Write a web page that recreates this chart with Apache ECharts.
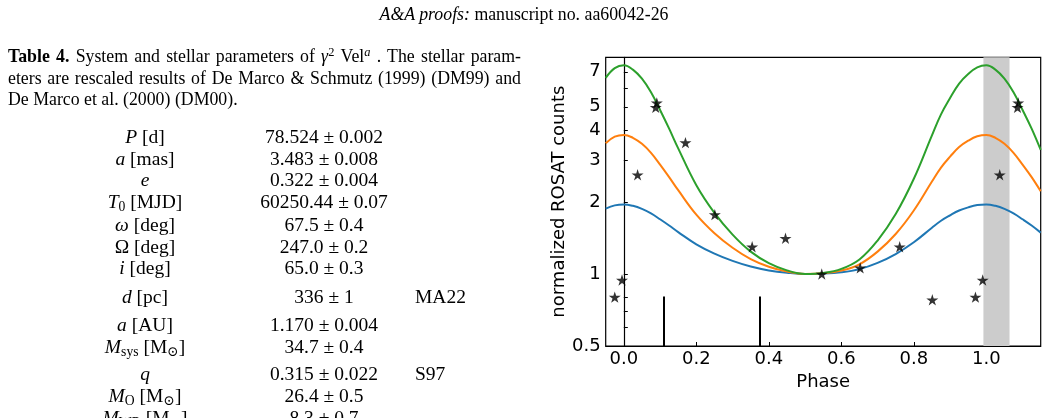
<!DOCTYPE html>
<html>
<head>
<meta charset="utf-8">
<script src="https://cdn.jsdelivr.net/npm/echarts@6.0.0/dist/echarts.min.js"></script>
<style>
  html, body { margin: 0; padding: 0; background: #fff; }
  body { width: 1048px; height: 418px; overflow: hidden; position: relative; }
  #container_one { position: absolute; left: 0; top: 0; width: 1048px; height: 418px; }
  .txt { position: absolute; z-index: 2; font-family: "Liberation Serif", "DejaVu Serif", serif; color: #000; }
  .head { left: 0; width: 1048px; top: 4px; line-height: 20px; font-size: 17.8px; text-align: center; }
  .cap { left: 8px; width: 513px; font-size: 17.8px; line-height: 21.5px; }
  .cap div { text-align: justify; text-align-last: justify; }
  .cap div.last { text-align: left; text-align-last: left; }
  sup { font-size: 0.7em; line-height: 0; vertical-align: 0.45em; }
  sub { font-size: 0.7em; line-height: 0; vertical-align: -0.25em; }
  .row { left: 0; width: 530px; height: 22px; line-height: 22px; font-size: 19.5px; }
  .row span { position: absolute; top: 0; white-space: nowrap; }
  .c1 { left: 45px; width: 200px; text-align: center; }
  .c2 { left: 224px; width: 200px; text-align: center; }
  .c3 { left: 415px; }
</style>
</head>
<body>
<div id="container_one"></div>

<div class="txt head"><i>A&amp;A proofs:</i> manuscript no. aa60042-26</div>

<div class="txt cap" style="top:46px">
  <div><b>Table 4.</b> System and stellar parameters of <i>γ</i><sup>2</sup> Vel<sup><i>a</i></sup> . The stellar param-</div>
  <div>eters are rescaled results of De Marco &amp; Schmutz (1999) (DM99) and</div>
  <div class="last">De Marco et al. (2000) (DM00).</div>
</div>

<div class="txt row" style="top:126px"><span class="c1"><i>P</i> [d]</span><span class="c2">78.524 ± 0.002</span></div>
<div class="txt row" style="top:148px"><span class="c1"><i>a</i> [mas]</span><span class="c2">3.483 ± 0.008</span></div>
<div class="txt row" style="top:169px"><span class="c1"><i>e</i></span><span class="c2">0.322 ± 0.004</span></div>
<div class="txt row" style="top:191px"><span class="c1"><i>T</i><sub>0</sub> [MJD]</span><span class="c2">60250.44 ± 0.07</span></div>
<div class="txt row" style="top:214px"><span class="c1"><i>ω</i> [deg]</span><span class="c2">67.5 ± 0.4</span></div>
<div class="txt row" style="top:236px"><span class="c1">Ω [deg]</span><span class="c2">247.0 ± 0.2</span></div>
<div class="txt row" style="top:257px"><span class="c1"><i>i</i> [deg]</span><span class="c2">65.0 ± 0.3</span></div>
<div class="txt row" style="top:286px"><span class="c1"><i>d</i> [pc]</span><span class="c2">336 ± 1</span><span class="c3">MA22</span></div>
<div class="txt row" style="top:314px"><span class="c1"><i>a</i> [AU]</span><span class="c2">1.170 ± 0.004</span></div>
<div class="txt row" style="top:336px"><span class="c1"><i>M</i><sub>sys</sub> [M<sub>⊙</sub>]</span><span class="c2">34.7 ± 0.4</span></div>
<div class="txt row" style="top:363px"><span class="c1"><i>q</i></span><span class="c2">0.315 ± 0.022</span><span class="c3">S97</span></div>
<div class="txt row" style="top:385px"><span class="c1"><i>M</i><sub>O</sub> [M<sub>⊙</sub>]</span><span class="c2">26.4 ± 0.5</span></div>
<div class="txt row" style="top:407px"><span class="c1"><i>M</i><sub>WR</sub> [M<sub>⊙</sub>]</span><span class="c2">8.3 ± 0.7</span></div>

<script>
// model curves, phase grid shared by the three curves
var phase = [-0.05, -0.025, 0, 0.025, 0.05, 0.075, 0.1, 0.125, 0.15, 0.2, 0.25, 0.3, 0.35, 0.4, 0.45, 0.5,
             0.55, 0.6, 0.65, 0.7, 0.75, 0.8, 0.85, 0.875, 0.9, 0.925, 0.95, 0.975, 1.0, 1.025, 1.05, 1.075,
             1.1, 1.125, 1.15];
var blueCurve = [1.876, 1.936, 1.953, 1.927, 1.871, 1.791, 1.693, 1.594, 1.496, 1.33, 1.216, 1.134, 1.074, 1.035, 1.012, 1.0,
                 1.003, 1.016, 1.048, 1.113, 1.212, 1.357, 1.561, 1.669, 1.759, 1.842, 1.899, 1.941, 1.953, 1.927, 1.871, 1.791,
                 1.693, 1.594, 1.489];
var orangeCurve = [3.52, 3.75, 3.815, 3.71, 3.50, 3.21, 2.865, 2.54, 2.24, 1.77, 1.48, 1.287, 1.154, 1.072, 1.023, 1.0,
                   1.007, 1.033, 1.098, 1.24, 1.469, 1.842, 2.435, 2.786, 3.094, 3.394, 3.607, 3.764, 3.815, 3.71, 3.50, 3.21,
                   2.865, 2.54, 2.217];
var greenCurve = [6.6, 7.25, 7.45, 7.15, 6.55, 5.75, 4.85, 4.05, 3.35, 2.35, 1.80, 1.46, 1.24, 1.11, 1.035, 1.0,
                  1.01, 1.05, 1.15, 1.38, 1.78, 2.5, 3.8, 4.65, 5.44, 6.25, 6.85, 7.3, 7.45, 7.15, 6.55, 5.75,
                  4.85, 4.05, 3.3];

// ROSAT points
var starPhase = [-0.025, -0.005, 0.038, 0.091, 0.088, 0.170, 0.251, 0.354, 0.446, 0.546, 0.652, 0.761, 0.851,
                 0.970, 0.990, 1.037, 1.088, 1.086];
var starCounts = [0.80, 0.944, 2.60, 5.19, 4.97, 3.54, 1.77, 1.30, 1.41, 1.00, 1.06, 1.30, 0.78,
                  0.80, 0.944, 2.60, 5.19, 4.97];

var markerPhase = [0.110, 0.376];
var markerTop = 0.806;
var eclipseBand = [0.992, 1.064];

var xTicks = [0, 0.2, 0.4, 0.6, 0.8, 1.0];
var yLabels = [0.5, 1, 2, 3, 4, 5, 7];
var yTicks = [0.5, 0.6, 0.7, 0.8, 1, 2, 3, 4, 5, 6, 7];

var starPath = 'path://M50,0 L61,35 L98,35 L68,57 L79,91 L50,70 L21,91 L32,57 L2,35 L39,35 Z';

var dom = document.getElementById("container_one");
var myChart_one = echarts.init(dom, null, { renderer: 'canvas' });
var option;

function pairs(xs, ys) {
  return xs.map(function (x, i) { return [x, ys[i]]; });
}

var markerLines = markerPhase.map(function (p) {
  return [{ coord: [p, 0.5] }, { coord: [p, markerTop] }];
});

option = {
  backgroundColor: '#fff',
  animation: false,
  textStyle: { fontFamily: 'DejaVu Sans', color: '#000' },
  grid: {
    left: 605.7, right: 7.3, top: 57.3, bottom: 72,
    show: true, borderColor: '#000', borderWidth: 1.2,
    outerBoundsMode: 'none'
  },
  xAxis: {
    type: 'value',
    min: -0.05, max: 1.15,
    name: 'Phase',
    nameLocation: 'middle',
    nameGap: 26,
    nameTextStyle: { fontSize: 18, color: '#000', fontFamily: 'DejaVu Sans' },
    axisLine: { show: true, lineStyle: { color: '#000', width: 1.2 } },
    axisTick: { show: true, inside: true, length: 4, customValues: xTicks, lineStyle: { color: '#000', width: 1 } },
    axisLabel: {
      customValues: xTicks, margin: 4, fontSize: 18, color: '#000', fontFamily: 'DejaVu Sans',
      formatter: function (v) { return v.toFixed(1); }
    },
    splitLine: { show: false }
  },
  yAxis: {
    type: 'log',
    logBase: 10,
    min: 0.5, max: 8.05,
    name: 'normalized ROSAT counts',
    nameLocation: 'middle',
    nameGap: 36,
    nameTextStyle: { fontSize: 18, color: '#000', fontFamily: 'DejaVu Sans' },
    axisLine: { show: true, lineStyle: { color: '#000', width: 1.2 } },
    axisTick: { show: true, inside: true, length: 4, customValues: yTicks, lineStyle: { color: '#000', width: 1 } },
    axisLabel: {
      customValues: yLabels, margin: 5, fontSize: 18, color: '#000', fontFamily: 'DejaVu Sans',
      formatter: function (v) { return String(+v.toFixed(1)); }
    },
    splitLine: { show: false },
    minorTick: { show: false }
  },
  series: [
    {
      type: 'line', name: 'blue',
      data: pairs(phase, blueCurve),
      showSymbol: false, smooth: 0.4,
      lineStyle: { color: '#1f77b4', width: 2 },
      itemStyle: { color: '#1f77b4' },
      z: 3,
      markArea: {
        silent: true,
        itemStyle: { color: '#cccccc', opacity: 1 },
        data: [[{ xAxis: eclipseBand[0] }, { xAxis: eclipseBand[1] }]]
      }
    },
    {
      type: 'line', name: 'orange',
      data: pairs(phase, orangeCurve),
      showSymbol: false, smooth: 0.4,
      lineStyle: { color: '#ff7f0e', width: 2 },
      itemStyle: { color: '#ff7f0e' },
      z: 4
    },
    {
      type: 'line', name: 'green',
      data: pairs(phase, greenCurve),
      showSymbol: false, smooth: 0.4,
      lineStyle: { color: '#2ca02c', width: 2 },
      itemStyle: { color: '#2ca02c' },
      z: 5,
      markLine: {
        silent: true, symbol: 'none',
        label: { show: false },
        lineStyle: { color: '#000', width: 2, type: 'solid' },
        data: markerLines
      }
    },
    {
      type: 'scatter', name: 'ROSAT',
      data: pairs(starPhase, starCounts),
      symbol: starPath, symbolSize: 12, symbolKeepAspect: true,
      itemStyle: { color: '#000' },
      z: 6
    }
  ]
};

if (option && typeof option === 'object') {
  myChart_one.setOption(option);
}
</script>
</body>
</html>
